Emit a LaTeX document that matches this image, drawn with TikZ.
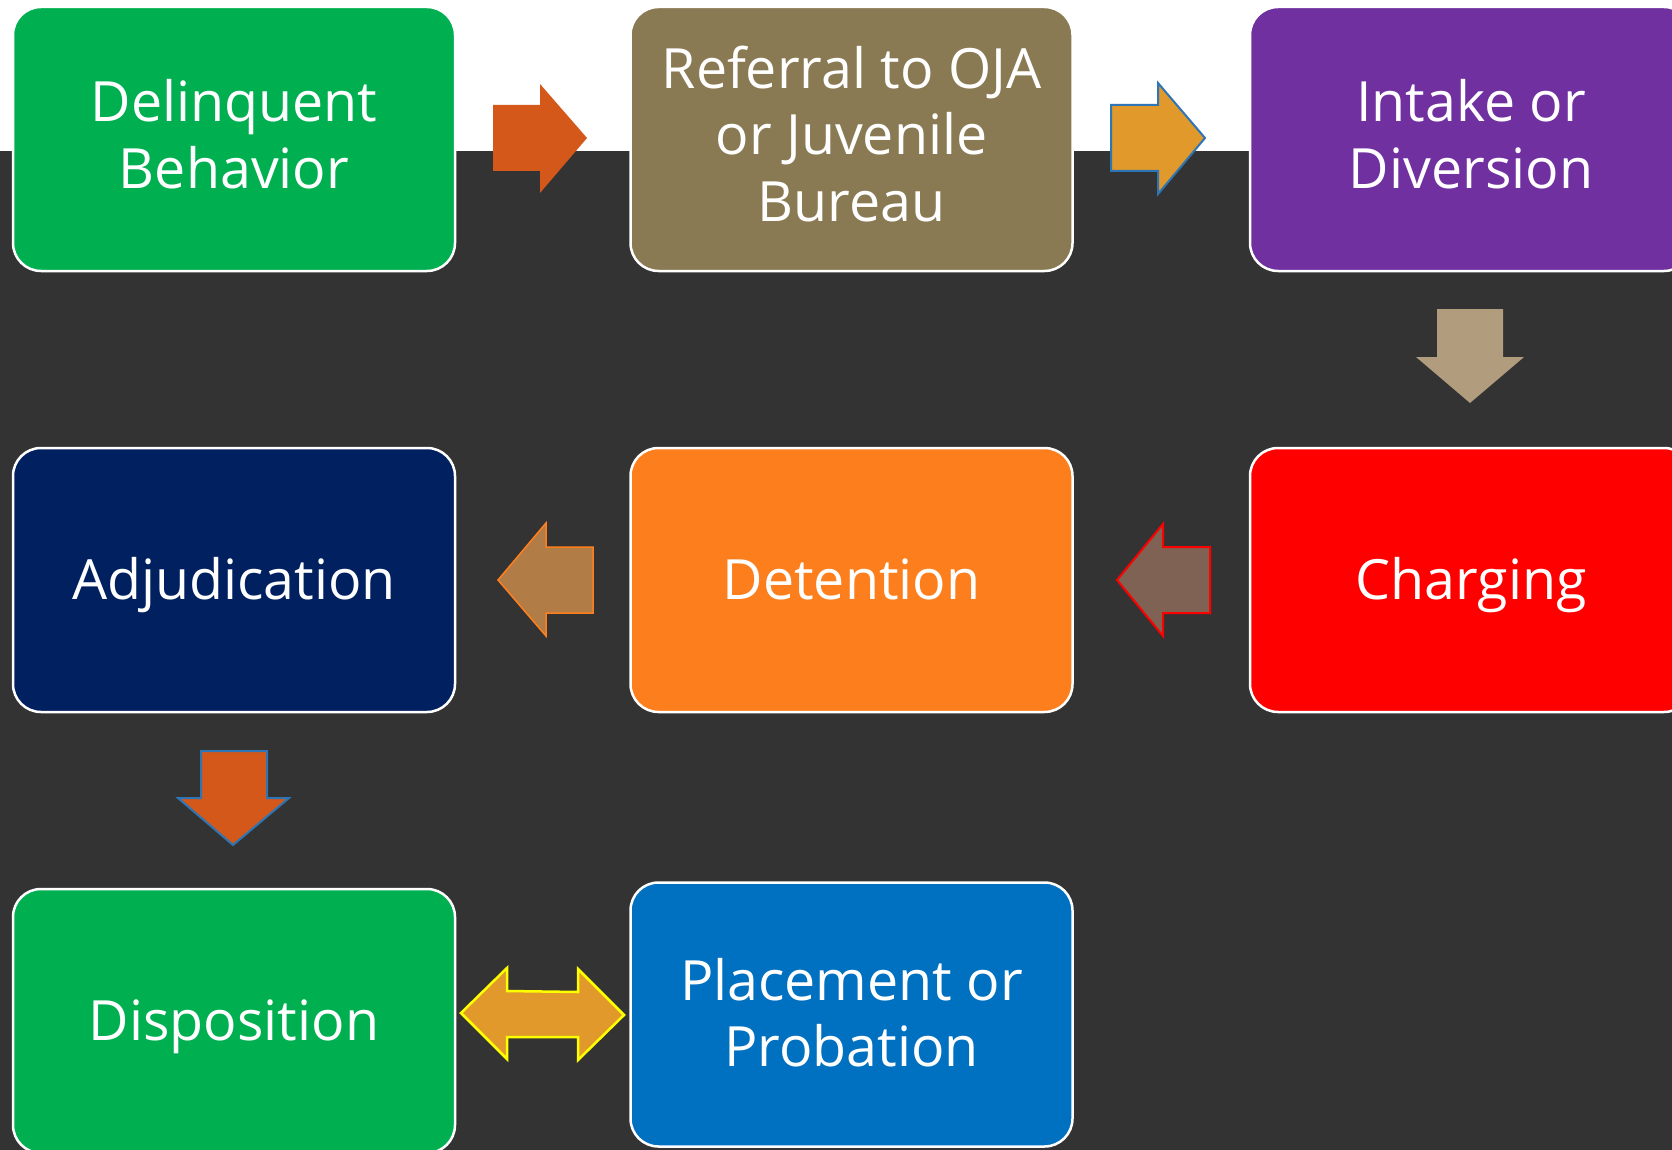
\documentclass[tikz,border=0pt]{standalone}
\usepackage{fontspec}
\setmainfont{Open Sans}
\definecolor{bgdark}{HTML}{333333}
\definecolor{cgreen}{HTML}{00B050}
\definecolor{cbrown}{HTML}{8A7A54}
\definecolor{cpurple}{HTML}{7030A0}
\definecolor{cred}{HTML}{FF0000}
\definecolor{corange}{HTML}{FD7E1C}
\definecolor{cnavy}{HTML}{002060}
\definecolor{cblue}{HTML}{0070C0}
\definecolor{arA}{HTML}{D4581A}
\definecolor{arB}{HTML}{E0992A}
\definecolor{arC}{HTML}{B19C7D}
\definecolor{arD}{HTML}{B27C47}
\definecolor{arE}{HTML}{7F6253}
\definecolor{lineblue}{HTML}{2E75B6}
\definecolor{lineorange}{HTML}{FF7F1D}
\definecolor{lineyellow}{HTML}{FFFF00}
\newcommand{\boxfont}{\fontsize{55.5}{66.7}\selectfont}
\newcommand{\ls}{\rule[-14pt]{0pt}{66pt}}
\newcommand{\lsb}{\rule[-20pt]{0pt}{72pt}}
\tikzset{
  stagebox/.style={draw=white, line width=2.5pt, rounded corners=28pt,
    minimum width=442pt, minimum height=264pt, text=white, align=center,
    inner sep=0pt, font=\boxfont},
  blockarrow/.style={line join=miter}
}
\begin{document}
\begin{tikzpicture}[x=1pt,y=-1pt]
\useasboundingbox (0,0) rectangle (1672,1150);
\clip (0,0) rectangle (1672,1150);
\fill[white] (0,0) rectangle (1672,151);
\fill[bgdark] (0,151) rectangle (1672,1150);

\node[stagebox, fill=cgreen]  (b1) at (234,139)    {\ls Delinquent\\\lsb Behavior};
\node[stagebox, fill=cbrown]  (b2) at (851.5,139)  {\ls Referral to OJA\\\ls or Juvenile\\\lsb Bureau};
\node[stagebox, fill=cpurple] (b3) at (1471,139)   {\ls Intake or\\\lsb Diversion};
\node[stagebox, fill=cred]    (b4) at (1471,580)   {\ls Charging};
\node[stagebox, fill=corange] (b5) at (851.5,580)  {\ls Detention};
\node[stagebox, fill=cnavy]   (b6) at (234,580)    {\ls Adjudication};
\node[stagebox, fill=cgreen]  (b7) at (234,1021)   {\ls Disposition};
\node[stagebox, fill=cblue]   (b8) at (851.5,1014.5) {\ls Placement or\\\ls Probation};

% b1 -> b2
\fill[blockarrow, arA] (493,105) -- (540,105) -- (540,84) -- (587,138) -- (540,193) -- (540,171) -- (493,171) -- cycle;
% b2 -> b3
\filldraw[blockarrow, fill=arB, draw=lineblue, line width=2pt] (1111,105) -- (1158,105) -- (1158,83) -- (1205,138) -- (1158,194) -- (1158,171) -- (1111,171) -- cycle;
% b3 -> b4
\fill[blockarrow, arC] (1437,309) -- (1503,309) -- (1503,357) -- (1524,357) -- (1470,403) -- (1416,357) -- (1437,357) -- cycle;
% b4 -> b5
\filldraw[blockarrow, fill=arE, draw=cred, line width=2pt] (1117,580) -- (1163,524) -- (1163,547) -- (1210,547) -- (1210,613) -- (1163,613) -- (1163,636) -- cycle;
% b5 -> b6
\filldraw[blockarrow, fill=arD, draw=lineorange, line width=1.5pt] (498,580) -- (546,523) -- (546,547) -- (593,547) -- (593,613) -- (546,613) -- (546,636) -- cycle;
% b6 -> b7
\filldraw[blockarrow, fill=arA, draw=lineblue, line width=2pt] (201,751) -- (267,751) -- (267,798) -- (289,798) -- (233,845) -- (178,798) -- (201,798) -- cycle;
% b7 <-> b8
\filldraw[blockarrow, fill=arB, draw=lineyellow, line width=2.5pt] (461,1013) -- (507,968) -- (507,991) -- (578,992) -- (578,969) -- (624,1015) -- (578,1060) -- (578,1037) -- (507,1037) -- (507,1059) -- cycle;
\end{tikzpicture}
\end{document}
